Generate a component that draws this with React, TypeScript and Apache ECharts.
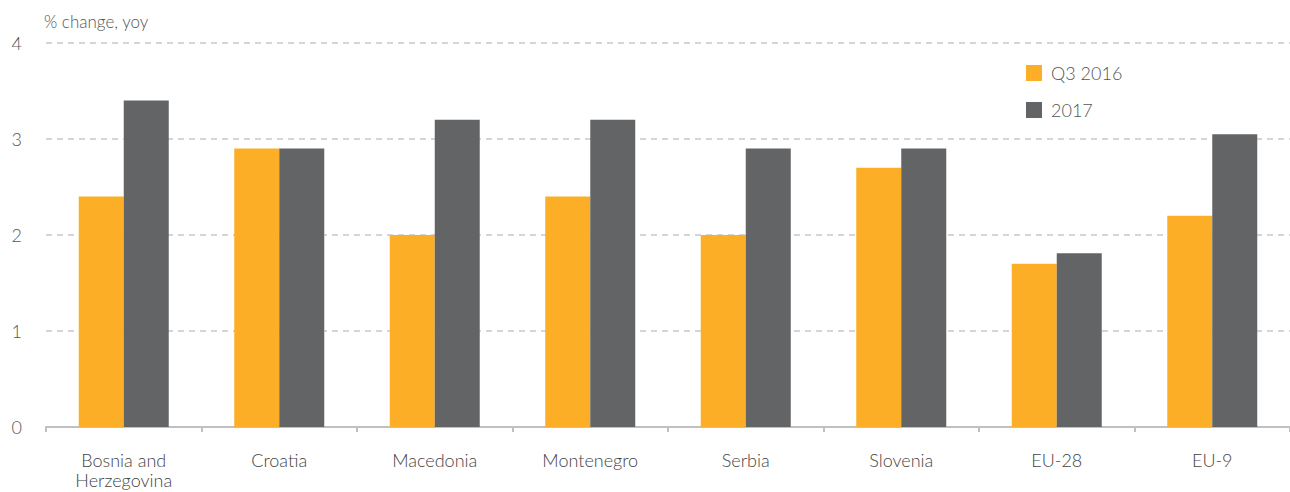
import React, { useEffect, useRef } from "react";
import * as echarts from "echarts";

const categories = ["Bosnia and\nHerzegovina", "Croatia", "Macedonia", "Montenegro", "Serbia", "Slovenia", "EU-28", "EU-9"];
const q3_2016 = [2.4, 2.9, 2.0, 2.4, 2.0, 2.7, 1.7, 2.2];
const y2017 = [3.4, 2.9, 3.2, 3.2, 2.9, 2.9, 1.81, 3.05];
const seriesNames = ["Q3 2016", "2017"];

const FONT = "Lato, 'Noto Sans', sans-serif";

export default function App() {
  const ref = useRef<HTMLDivElement>(null);
  useEffect(() => {
    document.body.style.margin = "0";
    const chart = echarts.init(ref.current!, null, { renderer: "svg" });
    chart.setOption({
      animation: false,
      textStyle: { fontFamily: FONT, fontWeight: 300 },
      grid: { left: 46, right: 0, top: 43, bottom: 65 },
      legend: {
        orient: "vertical",
        left: 1021,
        top: 59,
        itemWidth: 16,
        itemHeight: 16,
        itemGap: 19,
        icon: "rect",
        textStyle: { fontSize: 18, color: "#555", fontFamily: FONT, fontWeight: 300, padding: [0, 0, 0, 4] },
        data: seriesNames,
      },
      xAxis: {
        type: "category",
        data: categories,
        axisLine: { lineStyle: { color: "#c0c0c0", width: 2 } },
        axisTick: { show: true, length: 5, lineStyle: { color: "#c0c0c0", width: 2 } },
        axisLabel: { fontSize: 18, color: "#444", margin: 23, lineHeight: 20, fontFamily: FONT, fontWeight: 300 },
      },
      yAxis: {
        type: "value",
        min: 0,
        max: 4,
        interval: 1,
        name: "% change, yoy",
        nameLocation: "end",
        nameGap: 13,
        nameTextStyle: { fontSize: 17, color: "#555", align: "left", padding: [0, 0, 0, -2], fontFamily: FONT, fontWeight: 300 },
        axisLine: { show: false },
        axisTick: { show: false },
        axisLabel: { fontSize: 18, color: "#555", margin: 24, fontFamily: FONT, fontWeight: 300 },
        splitLine: { lineStyle: { color: "#c8c8c8", type: [6, 5], width: 1.5 } },
      },
      series: [
        {
          name: seriesNames[0],
          type: "bar",
          data: q3_2016,
          barWidth: 45,
          barGap: "0%",
          itemStyle: { color: "#FBAE26" },
        },
        {
          name: seriesNames[1],
          type: "bar",
          data: y2017,
          barWidth: 45,
          barGap: "0%",
          itemStyle: { color: "#636466" },
        },
      ],
    });
    return () => chart.dispose();
  }, []);
  return <div ref={ref} style={{ width: 1290, height: 492 }} />;
}
